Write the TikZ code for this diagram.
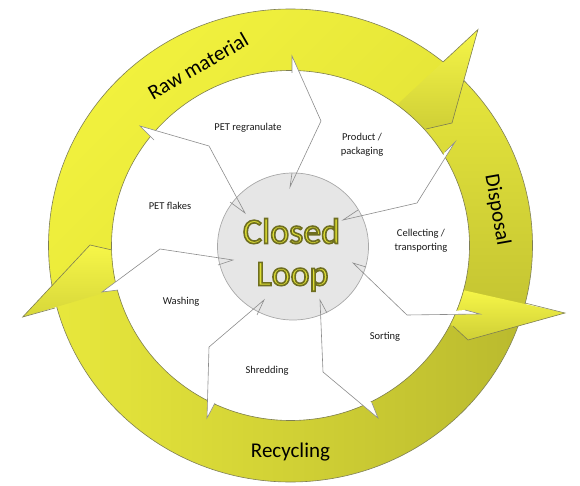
\documentclass[tikz,border=0pt]{standalone}
\usepackage{fontspec}
\setmainfont{Carlito}
\usetikzlibrary{calc}
\definecolor{rawA}{HTML}{F2F23E}
\definecolor{rawB}{HTML}{E2E236}
\definecolor{disA}{HTML}{E6E63C}
\definecolor{disB}{HTML}{C4C432}
\definecolor{recA}{HTML}{E8E83C}
\definecolor{recB}{HTML}{BABA2E}
\definecolor{headA}{HTML}{F6F648}
\definecolor{headB}{HTML}{CFCF36}
\definecolor{ringline}{HTML}{7E7E52}
\definecolor{sepgray}{HTML}{8C8C8C}
\definecolor{hubfill}{HTML}{E6E6E6}
\definecolor{hubline}{HTML}{A8A8A8}
\definecolor{loopfill}{HTML}{DEDE34}
\newcommand{\outlinedtext}[1]{\special{pdf:literal direct q 2 Tr 1.6 w 0.43 0.43 0.125 RG}#1\special{pdf:literal direct Q}}
\begin{document}
\begin{tikzpicture}[x=1pt,y=-1pt,
  edge/.style={draw=ringline, line width=0.6pt, line join=miter},
  sep/.style={draw=sepgray, line width=0.6pt, line join=miter},
  lbl/.style={font=\fontsize{10.5}{14}\selectfont, text=black!90, align=center, inner sep=0pt},
  ringtxt/.style={font=\fontsize{21}{25}\selectfont, text=black, inner sep=0pt},
  bigtxt/.style={font=\fontsize{36}{40}\selectfont, inner sep=0pt, anchor=base, text=loopfill}]
\useasboundingbox (0,0) rectangle (580,486);
\def\cx{290.5}\def\cy{245.5}\def\ro{242}\def\rop{236.5}\def\ri{179}\def\rip{175}

% ---- ring bodies
\shade[top color=rawA, bottom color=rawB, shading angle=45]
  plot[domain=192:46,samples=90] ({\cx+\ro*cos(\x)},{\cy-\rop*sin(\x)})
  -- plot[domain=46:192,samples=90] ({\cx+\ri*cos(\x)},{\cy-\rip*sin(\x)}) -- cycle;
\shade[top color=disA, bottom color=disB]
  plot[domain=46:-17,samples=60] ({\cx+\ro*cos(\x)},{\cy-\rop*sin(\x)})
  -- plot[domain=-17:46,samples=60] ({\cx+\ri*cos(\x)},{\cy-\rip*sin(\x)}) -- cycle;
\shade[left color=recA, right color=recB]
  plot[domain=-17:-168,samples=90] ({\cx+\ro*cos(\x)},{\cy-\rop*sin(\x)})
  -- plot[domain=-168:-17,samples=90] ({\cx+\ri*cos(\x)},{\cy-\rip*sin(\x)}) -- cycle;
\draw[edge] (\cx,\cy) ellipse [x radius=242pt, y radius=236.5pt];

% ---- arrow heads
\coordinate (h1co) at (443,62);  \coordinate (h1tip) at (478,29.5);
\coordinate (h1n) at (452,123);  \coordinate (h1in) at (426,129); \coordinate (h1tr) at (400,102);
\coordinate (h2co) at (525,303); \coordinate (h2tip) at (565,313);
\coordinate (h2n) at (468,340);  \coordinate (h2in) at (453,326); \coordinate (h2tr) at (467,291);
\coordinate (h3co) at (55,308);  \coordinate (h3tip) at (22.7,317);
\coordinate (h3n) at (90,245);   \coordinate (h3in) at (112,250); \coordinate (h3tr) at (120,288);

\shade[top color=headA, bottom color=headB]
  (h1tr) -- (h1tip) -- (h1n) -- (h1in)
  -- plot[domain=41.3:53.3,samples=10] ({\cx+\ri*cos(\x)},{\cy-\rip*sin(\x)}) -- cycle;
\draw[edge] (h1co) -- (h1tip) -- (h1n) -- (h1in);
\shade[top color=headA, bottom color=headB]
  (h2tr) -- (h2tip) -- (h2n) -- (h2in)
  -- plot[domain=-26.9:-14.8,samples=10] ({\cx+\ri*cos(\x)},{\cy-\rip*sin(\x)}) -- cycle;
\draw[edge] (h2co) -- (h2tip) -- (h2n) -- (h2in);
\shade[top color=headA, bottom color=headB!80!headA]
  (h3tr) -- (h3tip) -- (h3n) -- (h3in)
  -- plot[domain=181.5:194.3,samples=10] ({\cx+\ri*cos(\x)},{\cy-\rip*sin(\x)}) -- cycle;
\draw[edge] (h3co) -- (h3tip) -- (h3n) -- (h3in);
\draw[edge] (\cx,\cy) ellipse [x radius=179pt, y radius=175pt];

% ---- ring labels
\node[ringtxt, rotate=30] (raw) at (198,66) {Raw material};
\node[ringtxt, rotate=-80] (disp) at (497,210) {Disposal};
\node[ringtxt, anchor=base] (recy) at (290.5,457.5) {Recycling};

% ---- separators (outer barb, outer tip, middle, inner tip, inner barb)
\coordinate (A-ob) at (154,140); \coordinate (A-ot) at (140,126); \coordinate (A-md) at (209,146); \coordinate (A-it) at (245,213); \coordinate (A-ib) at (230,202);
\coordinate (B-ob) at (292,73);  \coordinate (B-ot) at (292,56);  \coordinate (B-md) at (321,121); \coordinate (B-it) at (290,187); \coordinate (B-ib) at (292,173);
\coordinate (C-ob) at (445,152); \coordinate (C-ot) at (455,142); \coordinate (C-md) at (417,203); \coordinate (C-it) at (343,220); \coordinate (C-ib) at (358,210);
\coordinate (D-ob) at (465,310); \coordinate (D-ot) at (480,314); \coordinate (D-md) at (407,315); \coordinate (D-it) at (353,263); \coordinate (D-ib) at (366,267);
\coordinate (E-ob) at (372,403); \coordinate (E-ot) at (378,418); \coordinate (E-md) at (323,372); \coordinate (E-it) at (320,300); \coordinate (E-ib) at (327,313);
\coordinate (F-ob) at (215,403); \coordinate (F-ot) at (207,418); \coordinate (F-md) at (209,347); \coordinate (F-it) at (264,300); \coordinate (F-ib) at (257,315);
\coordinate (G-ob) at (118,290); \coordinate (G-ot) at (102,292); \coordinate (G-md) at (160,249); \coordinate (G-it) at (233,260); \coordinate (G-ib) at (218,265);

\foreach \n in {A,B,C,D,E,F,G} {\fill[white] (\n-ob) -- (\n-ot) -- (\n-md) -- cycle;}

% ---- hub
\path[draw=hubline, fill=hubfill, line width=0.7pt] (293,246.5) ellipse [x radius=75.5pt, y radius=73.5pt];

\foreach \n in {A,B,C,D,E,F,G} {\draw[sep] (\n-ob) -- (\n-ot) -- (\n-md) -- (\n-it) -- (\n-ib);}

% ---- Closed Loop
\node[bigtxt] (closed) at (291.5,243.5) {\outlinedtext{Closed}};
\node[bigtxt] (loop) at (292.5,285.5) {\outlinedtext{Loop}};

% ---- step labels
\node[lbl] (l1) at (248,128) {PET regranulate};
\node[lbl] (l2) at (362,145) {Product /\\packaging};
\node[lbl] (l3) at (421,240.5) {Cellecting /\\transporting};
\node[lbl] (l4) at (385,337) {Sorting};
\node[lbl] (l5) at (267,371) {Shredding};
\node[lbl] (l6) at (181,302) {Washing};
\node[lbl] (l7) at (170,206) {PET flakes};
\end{tikzpicture}
\end{document}
